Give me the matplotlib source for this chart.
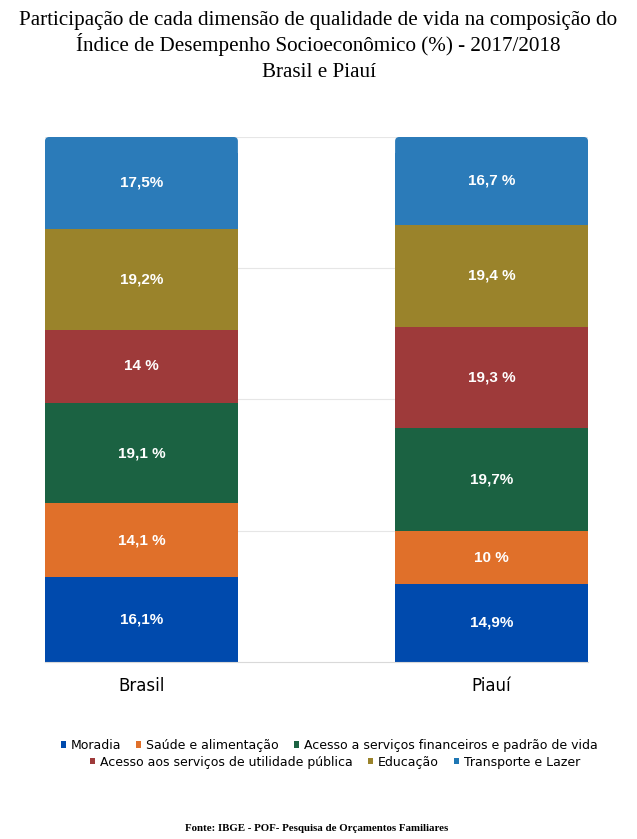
import numpy as np
import matplotlib.pyplot as plt
from matplotlib.patches import FancyBboxPatch

regioes = ['Brasil', 'Piauí']
dimensoes = ['Moradia', 'Saúde e alimentação',
             'Acesso a serviços financeiros e padrão de vida',
             'Acesso aos serviços de utilidade pública',
             'Educação', 'Transporte e Lazer']
moradia = [16.1, 14.9]
saude = [14.1, 10.0]
financeiros = [19.1, 19.7]
utilidade = [14.0, 19.3]
educacao = [19.2, 19.4]
transporte = [17.5, 16.7]
rotulos_brasil = ['16,1%', '14,1 %', '19,1 %', '14 %', '19,2%', '17,5%']
rotulos_piaui = ['14,9%', '10 %', '19,7%', '19,3 %', '19,4 %', '16,7 %']

cores = ['#004AAD', '#E0702A', '#1B6242', '#9E3A3A', '#9A832B', '#2B7BB9']
series = [moradia, saude, financeiros, utilidade, educacao, transporte]
rotulos = [rotulos_brasil, rotulos_piaui]

fig = plt.figure(figsize=(6.37, 8.39), dpi=100)
ax = fig.add_axes([0.0706, 0.211, 0.8525, 0.6257])

x = np.arange(len(regioes))
largura = 0.551
base = np.zeros(len(regioes))
handles = []
for i, (vals, cor) in enumerate(zip(series, cores)):
    vals = np.array(vals)
    if i == len(series) - 1:
        # topo com cantos arredondados
        for j in range(len(regioes)):
            p = FancyBboxPatch((x[j] - largura / 2, base[j]), largura, vals[j],
                               boxstyle='round,pad=0,rounding_size=0.012',
                               mutation_aspect=66.7,
                               facecolor=cor, edgecolor='none', zorder=2)
            ax.add_patch(p)
            ax.bar(x[j], vals[j] - 3, largura, bottom=base[j], color=cor, zorder=2)
        h = ax.bar([], [], color=cor)
    else:
        h = ax.bar(x, vals, largura, bottom=base, color=cor, zorder=2)
    handles.append(h)
    for j in range(len(regioes)):
        ax.text(x[j], base[j] + vals[j] / 2, rotulos[j][i], ha='center', va='center',
                color='white', fontsize=11, fontweight='bold',
                family='Liberation Sans', zorder=3)
    base = base + vals

ax.set_xlim(-0.2755, 1.2755)
ax.set_ylim(0, 100)
ax.set_yticks([25, 50, 75, 100])
ax.yaxis.grid(True, color='#E6E6E6', linewidth=0.8, zorder=0)
ax.set_axisbelow(True)
ax.tick_params(axis='y', left=False, labelleft=False)
ax.tick_params(axis='x', length=0, pad=11)
ax.set_xticks(x)
ax.set_xticklabels(regioes, fontsize=12, family='DejaVu Sans')
for s in ['top', 'left', 'right']:
    ax.spines[s].set_visible(False)
ax.spines['bottom'].set_color('#D9D9D9')

fonte_titulo = dict(fontsize=15.2, family='Liberation Serif')
fig.text(0.5, 0.976, 'Participação de cada dimensão de qualidade de vida na composição do',
         ha='center', va='center', **fonte_titulo)
fig.text(0.5, 0.9475, 'Índice de Desempenho Socioeconômico (%) - 2017/2018',
         ha='center', va='center', **fonte_titulo)
fig.text(0.5, 0.914, 'Brasil e Piauí', ha='center', va='center', **fonte_titulo)

prop_leg = {'family': 'DejaVu Sans', 'size': 9}
kw_leg = dict(loc='center', ncol=3, frameon=False, prop=prop_leg,
              handlelength=0.4, handleheight=0.4, handletextpad=0.4,
              columnspacing=1.2, borderaxespad=0, borderpad=0)
leg1 = fig.legend(handles[:3], dimensoes[:3], bbox_to_anchor=(0.517, 0.1115), **kw_leg)
leg2 = fig.legend(handles[3:], dimensoes[3:], bbox_to_anchor=(0.526, 0.0915), **kw_leg)

fig.text(0.497, 0.0125, 'Fonte: IBGE - POF- Pesquisa de Orçamentos Familiares',
         ha='center', va='center', fontsize=7.8, family='Liberation Serif', fontweight='bold')

fig.savefig('out.png', dpi=100)
